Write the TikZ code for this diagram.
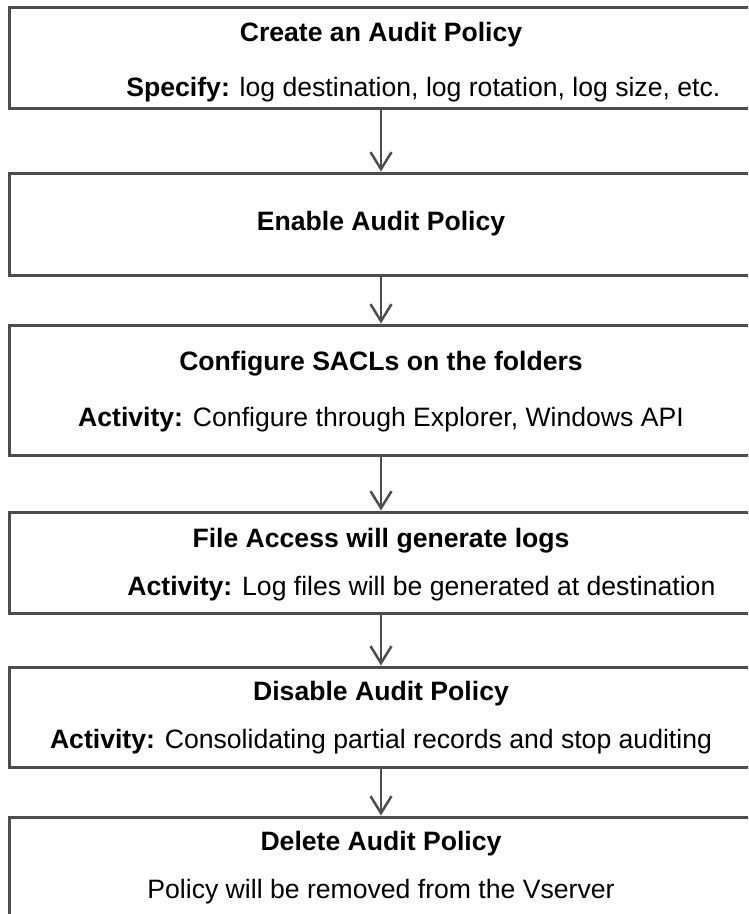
\documentclass[tikz,border=0pt]{standalone}
\usepackage{fontspec}
\setmainfont{Liberation Sans}
\usetikzlibrary{arrows.meta}
\definecolor{linegray}{HTML}{4D4D4D}

\begin{document}
\begin{tikzpicture}[x=1pt, y=-1pt, thick,
    step box/.style={rectangle, draw=linegray, line width=3pt, minimum width=744pt, inner sep=0pt},
    head text/.style={font=\fontsize{26.6pt}{31pt}\selectfont\bfseries, anchor=base, inner sep=0pt},
    body text/.style={font=\fontsize{26.6pt}{31pt}\selectfont, anchor=base, inner sep=0pt},
    flow/.style={draw=linegray, line width=2.5pt, -{Straight Barb[length=17pt,width=21pt]}}]

  \useasboundingbox (0,0) rectangle (748,914);
  \clip (0,0) rectangle (748,914);

  \node[step box, minimum height=101pt] (1) at (381,57.5) {};
  \node[step box, minimum height=102pt] (2) at (381,224) {};
  \node[step box, minimum height=130pt] (3) at (381,390) {};
  \node[step box, minimum height=101pt] (4) at (381,562.5) {};
  \node[step box, minimum height=100pt] (5) at (381,717) {};
  \node[step box, minimum height=120pt] (6) at (381,877) {};

  \node[head text] (1a) at (381,41) {Create an Audit Policy};
  \node[body text, anchor=base west] (1b) at (126,96) {{\bfseries Specify:} log destination, log rotation, log size, etc.};
  \node[head text] (2a) at (381,230) {Enable Audit Policy};
  \node[head text] (3a) at (381,370) {Configure SACLs on the folders};
  \node[body text] (3b) at (381,426) {{\bfseries Activity:} Configure through Explorer, Windows API};
  \node[head text] (4a) at (381,547) {File Access will generate logs};
  \node[body text, anchor=base west] (4b) at (127,595) {{\bfseries Activity:} Log files will be generated at destination};
  \node[head text] (5a) at (381,700) {Disable Audit Policy};
  \node[body text] (5b) at (381,748) {{\bfseries Activity:} Consolidating partial records and stop auditing};
  \node[head text] (6a) at (381,850) {Delete Audit Policy};
  \node[body text] (6b) at (381,898) {Policy will be removed from the Vserver};

  \path[flow]
    (1) edge (2)
    (2) edge (3)
    (3) edge (4)
    (4) edge (5)
    (5) edge (6);

\end{tikzpicture}
\end{document}
